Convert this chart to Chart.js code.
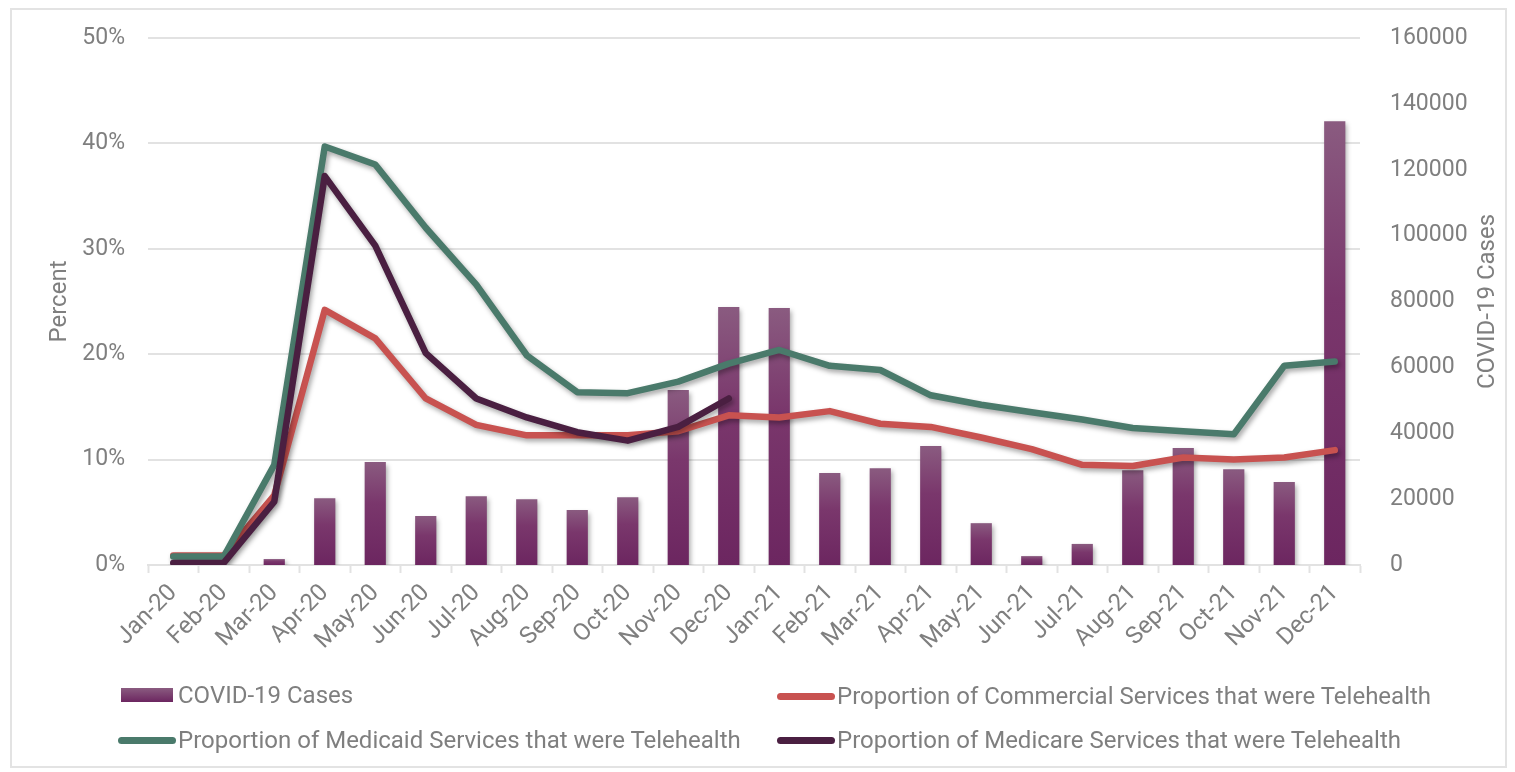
<!DOCTYPE html>
<html>
<head>
<meta charset="utf-8">
<title>Telehealth and COVID-19 Cases</title>
<script src="https://cdn.jsdelivr.net/npm/chart.js@4.4.0/dist/chart.umd.min.js"></script>
<style>
    html, body { margin: 0; padding: 0; background: #fff; }
    #wrap { position: relative; width: 1515px; height: 772px; overflow: hidden; font-family: Roboto, sans-serif; }
    #frame { position: absolute; left: 10px; top: 8px; width: 1493px; height: 756px; border: 2px solid #e3e3e3; }
    #chart { position: absolute; left: 0; top: 0; }
    .legend-item { position: absolute; display: flex; align-items: center; height: 30px; color: #7f7f7f; font-size: 24px; white-space: nowrap; }
    .sw-bar { width: 52px; height: 14px; margin: 0 5px 0 3px; background: linear-gradient(#8a5b80, #6c2660); }
    .sw-line { width: 58px; height: 7px; border-radius: 4px; margin-right: 2px; }
</style>
</head>
<body>
<div id="wrap">
    <div id="frame"></div>
    <canvas id="chart" width="1515" height="772"></canvas>
    <div id="legend"></div>
</div>
<script>
/* ================= DATA ================= */
const months = [
    "Jan-20", "Feb-20", "Mar-20", "Apr-20", "May-20", "Jun-20",
    "Jul-20", "Aug-20", "Sep-20", "Oct-20", "Nov-20", "Dec-20",
    "Jan-21", "Feb-21", "Mar-21", "Apr-21", "May-21", "Jun-21",
    "Jul-21", "Aug-21", "Sep-21", "Oct-21", "Nov-21", "Dec-21"
];

const covidCases = [
    0, 0, 1800, 20300, 31300, 14900,
    20900, 20000, 16700, 20600, 53100, 78300,
    78000, 27900, 29400, 36100, 12700, 2700,
    6400, 28800, 35500, 29100, 25200, 134700
];

// percent of services delivered as telehealth
const commercialPct = [
    0.9, 0.9, 6.6, 24.2, 21.5, 15.8,
    13.3, 12.3, 12.3, 12.3, 12.7, 14.2,
    14.0, 14.6, 13.4, 13.1, 12.1, 11.0,
    9.5, 9.4, 10.2, 10.0, 10.2, 10.9
];

const medicaidPct = [
    0.8, 0.8, 9.5, 39.7, 38.0, 32.0,
    26.6, 19.9, 16.4, 16.3, 17.4, 19.1,
    20.4, 18.9, 18.5, 16.1, 15.2, 14.5,
    13.8, 13.0, 12.7, 12.4, 18.9, 19.3
];

const medicarePct = [
    0.2, 0.2, 6.0, 36.9, 30.3, 20.1,
    15.8, 14.0, 12.6, 11.8, 13.1, 15.8,
    null, null, null, null, null, null,
    null, null, null, null, null, null
];

const pctMax = 50;
const pctStep = 10;
const casesMax = 160000;
const casesStep = 20000;

const seriesNames = {
    cases: "COVID-19 Cases",
    commercial: "Proportion of Commercial Services that were Telehealth",
    medicaid: "Proportion of Medicaid Services that were Telehealth",
    medicare: "Proportion of Medicare Services that were Telehealth"
};

/* ================= STYLE ================= */
const TEXT = "#7f7f7f";
const GRID = "#e2e2e2";
const RED = "#c85250";
const GREEN = "#4a7a6b";
const PLUM = "#4a1f41";
const FONT = { family: "Roboto", size: 23 };

Chart.defaults.font.family = "Roboto";
Chart.defaults.color = TEXT;

/* each bar gets its own top-to-bottom gradient */
function barFill(c) {
    const chart = c.chart;
    if (!chart.chartArea || c.type !== "data") return "#7a386c";
    const scale = chart.scales.y1;
    const top = scale.getPixelForValue(c.raw);
    const base = scale.getPixelForValue(0);
    if (base - top < 1) return "#86567b";
    const g = chart.ctx.createLinearGradient(0, top, 0, base);
    g.addColorStop(0, "#8a5b80");
    g.addColorStop(0.4, "#7a376c");
    g.addColorStop(1, "#6c2660");
    return g;
}

/* soft shadow under bars and lines */
const dropShadow = {
    id: "dropShadow",
    beforeDatasetDraw(chart) {
        const ctx = chart.ctx;
        ctx.save();
        ctx.shadowColor = "rgba(0,0,0,0.35)";
        ctx.shadowBlur = 5;
        ctx.shadowOffsetX = 2;
        ctx.shadowOffsetY = 3;
    },
    afterDatasetDraw(chart) {
        chart.ctx.restore();
    }
};

/* both axis titles read bottom-to-top */
const axisTitles = {
    id: "axisTitles",
    afterDraw(chart) {
        const ctx = chart.ctx;
        const mid = (chart.chartArea.top + chart.chartArea.bottom) / 2;
        ctx.save();
        ctx.fillStyle = TEXT;
        ctx.font = "24px Roboto";
        ctx.textAlign = "center";
        ctx.textBaseline = "middle";
        [[60, "Percent"], [1488, "COVID-19 Cases"]].forEach(([x, text]) => {
            ctx.save();
            ctx.translate(x, mid);
            ctx.rotate(-Math.PI / 2);
            ctx.fillText(text, 0, 0);
            ctx.restore();
        });
        ctx.restore();
    }
};

function lineSet(label, data, color, order) {
    return {
        type: "line",
        label,
        data,
        yAxisID: "y",
        borderColor: color,
        backgroundColor: color,
        borderWidth: 6.5,
        borderCapStyle: "round",
        borderJoinStyle: "round",
        pointRadius: 0,
        tension: 0,
        spanGaps: false,
        order
    };
}

const datasets = [
    {
        type: "bar",
        label: seriesNames.cases,
        data: covidCases,
        yAxisID: "y1",
        backgroundColor: barFill,
        barPercentage: 0.42,
        categoryPercentage: 1,
        order: 10
    },
    lineSet(seriesNames.commercial, commercialPct, RED, 3),
    lineSet(seriesNames.medicaid, medicaidPct, GREEN, 2),
    lineSet(seriesNames.medicare, medicarePct, PLUM, 1)
];

/* ================= RENDER ================= */
function renderChart() {
    new Chart(document.getElementById("chart"), {
        data: { labels: months, datasets },
        options: {
            responsive: false,
            animation: false,
            devicePixelRatio: 1,
            layout: { padding: { top: 38, left: 0, right: 0, bottom: 0 } },
            plugins: {
                legend: { display: false },
                tooltip: { enabled: false }
            },
            scales: {
                x: {
                    offset: true,
                    grid: {
                        offset: true,
                        drawOnChartArea: false,
                        drawTicks: true,
                        tickLength: 8,
                        tickColor: GRID,
                        tickWidth: 2
                    },
                    border: { display: true, color: GRID, width: 2 },
                    ticks: {
                        font: { family: "Roboto", size: 24 },
                        color: TEXT,
                        autoSkip: false,
                        minRotation: 45,
                        maxRotation: 45,
                        padding: 6
                    },
                    afterFit: s => { s.height = 207; }
                },
                y: {
                    position: "left",
                    min: 0,
                    max: pctMax,
                    grid: { color: GRID, lineWidth: 2, drawTicks: false },
                    border: { display: false },
                    ticks: {
                        stepSize: pctStep,
                        font: FONT,
                        color: TEXT,
                        padding: 23,
                        callback: v => v + "%"
                    },
                    afterFit: s => { s.width = 148; }
                },
                y1: {
                    position: "right",
                    min: 0,
                    max: casesMax,
                    grid: { display: false, drawOnChartArea: false },
                    border: { display: false },
                    ticks: {
                        stepSize: casesStep,
                        font: FONT,
                        color: TEXT,
                        padding: 22,
                        callback: v => String(v)
                    },
                    afterFit: s => { s.width = 155; }
                }
            }
        },
        plugins: [dropShadow, axisTitles]
    });
}

/* ================= LEGEND ================= */
function renderLegend() {
    const host = document.getElementById("legend");
    const slots = [
        { ds: datasets[0], left: 118, top: 680 },
        { ds: datasets[1], left: 777, top: 681 },
        { ds: datasets[2], left: 118, top: 725 },
        { ds: datasets[3], left: 777, top: 725 }
    ];
    slots.forEach(({ ds, left, top }) => {
        const item = document.createElement("div");
        item.className = "legend-item";
        item.style.left = left + "px";
        item.style.top = top + "px";
        const sw = document.createElement("div");
        if (ds.type === "bar") {
            sw.className = "sw-bar";
        } else {
            sw.className = "sw-line";
            sw.style.background = ds.borderColor;
        }
        const txt = document.createElement("span");
        txt.textContent = ds.label;
        item.appendChild(sw);
        item.appendChild(txt);
        host.appendChild(item);
    });
}

renderLegend();
document.fonts.load("23px Roboto").then(renderChart, renderChart);
</script>
</body>
</html>
